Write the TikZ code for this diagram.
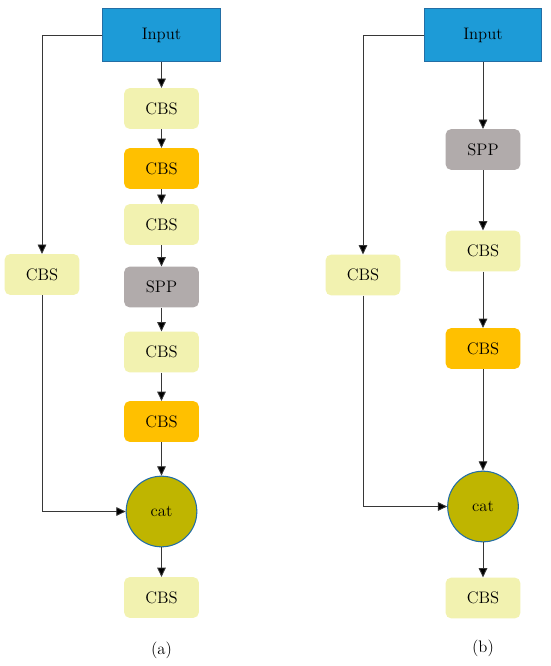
\documentclass[tikz,border=0pt]{standalone}
\usepackage{tikz}
\usetikzlibrary{arrows.meta,positioning}
\definecolor{inblue}{RGB}{29,155,215}
\definecolor{inedge}{RGB}{35,110,165}
\definecolor{cbslight}{RGB}{242,242,176}
\definecolor{cbsorange}{RGB}{255,192,0}
\definecolor{sppgray}{RGB}{177,171,171}
\definecolor{catolive}{RGB}{191,181,0}
\definecolor{wiregray}{RGB}{55,55,55}
\tikzset{
  inbox/.style={draw=inedge, line width=0.8pt, fill=inblue, minimum width=88pt, minimum height=40pt, inner sep=0pt},
  cbsbox/.style={fill=cbslight, rounded corners=4pt, minimum width=56pt, minimum height=30.5pt, inner sep=0pt},
  cbsdark/.style={cbsbox, fill=cbsorange},
  sppbox/.style={cbsbox, fill=sppgray},
  catnode/.style={circle, draw=inedge, line width=0.8pt, fill=catolive, minimum size=53pt, inner sep=0pt},
  wire/.style={draw=wiregray, line width=0.65pt, -{Triangle[length=7pt,width=6.5pt,fill=black]}},
  plainwire/.style={draw=wiregray, line width=0.65pt}
}
\begin{document}
\begin{tikzpicture}[x=0.75pt, y=-0.75pt, font=\fontsize{12.5}{14}\selectfont]
  \useasboundingbox (0,0) rectangle (550,666);

  % Ramo (a): catena principale
  \node[inbox] (inA) at (161.5,35) {Input};
  \node[cbsbox] (cbsA1) at (161.5,108.5) {CBS};
  \node[cbsdark] (cbsA2) at (161.5,168.5) {CBS};
  \node[cbsbox] (cbsA3) at (161.5,224.5) {CBS};
  \node[sppbox] (sppA) at (161.5,287) {SPP};
  \node[cbsbox] (cbsA4) at (161.5,352) {CBS};
  \node[cbsdark] (cbsA5) at (161.5,421.5) {CBS};
  \node[catnode] (catA) at (161.5,511.5) {cat};
  \node[cbsbox] (cbsA6) at (161.5,597.5) {CBS};
  \node (labA) at (161.5,650) {(a)};

  % Ramo (a): scorciatoia laterale
  \node[cbsbox] (cbsAL) at (42,274.5) {CBS};

  \draw[wire] (inA) -- (cbsA1);
  \draw[wire] (cbsA1) -- (cbsA2);
  \draw[wire] (cbsA2) -- (cbsA3);
  \draw[wire] (cbsA3) -- (sppA);
  \draw[wire] (sppA) -- (cbsA4);
  \draw[wire] (cbsA4) -- (cbsA5);
  \draw[wire] (cbsA5) -- (catA);
  \draw[wire] (catA) -- (cbsA6);
  \draw[wire] (inA.west) -| (cbsAL.north);
  \draw[wire] (cbsAL.south) |- (catA.west);

  % Ramo (b): catena principale
  \node[inbox] (inB) at (483,35) {Input};
  \node[sppbox] (sppB) at (483,149.5) {SPP};
  \node[cbsbox] (cbsB1) at (483,251) {CBS};
  \node[cbsdark] (cbsB2) at (483,348.5) {CBS};
  \node[catnode] (catB) at (483,506.5) {cat};
  \node[cbsbox] (cbsB3) at (483,598) {CBS};
  \node (labB) at (483,648) {(b)};

  % Ramo (b): scorciatoia laterale
  \node[cbsbox] (cbsBL) at (363,275) {CBS};

  \draw[wire] (inB) -- (sppB);
  \draw[wire] (sppB) -- (cbsB1);
  \draw[wire] (cbsB1) -- (cbsB2);
  \draw[wire] (cbsB2) -- (catB);
  \draw[wire] (catB) -- (cbsB3);
  \draw[wire] (inB.west) -| (cbsBL.north);
  \draw[wire] (cbsBL.south) |- (catB.west);
\end{tikzpicture}
\end{document}
